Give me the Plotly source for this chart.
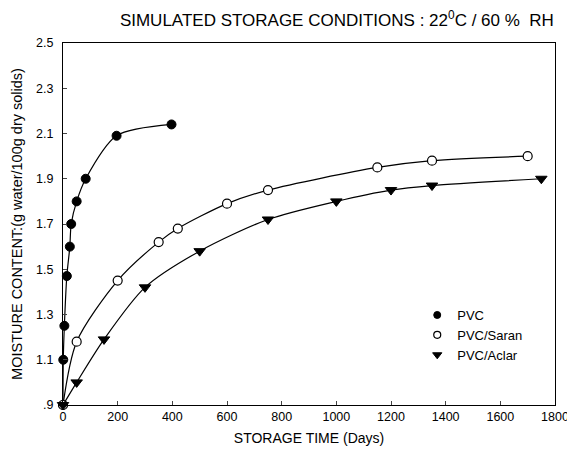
import plotly.graph_objects as go

pvc_days = [0, 1, 5, 14, 25, 30, 50, 83, 196, 397]
pvc_moist = [0.9, 1.1, 1.25, 1.47, 1.6, 1.7, 1.8, 1.9, 2.09, 2.14]

saran_days = [0, 50, 200, 350, 420, 600, 750, 1150, 1350, 1700]
saran_moist = [0.9, 1.18, 1.45, 1.62, 1.68, 1.79, 1.85, 1.95, 1.98, 2.0]

aclar_days = [0, 50, 150, 300, 500, 750, 1000, 1200, 1350, 1750]
aclar_moist = [0.9, 1.0, 1.19, 1.42, 1.58, 1.72, 1.80, 1.85, 1.87, 1.90]

series_names = ["PVC", "PVC/Saran", "PVC/Aclar"]
x_ticks = [0, 200, 400, 600, 800, 1000, 1200, 1400, 1600, 1800]
y_ticks = [0.9, 1.1, 1.3, 1.5, 1.7, 1.9, 2.1, 2.3, 2.5]
y_tick_labels = [".9", "1.1", "1.3", "1.5", "1.7", "1.9", "2.1", "2.3", "2.5"]

FONT = "Liberation Sans, Arial, sans-serif"

styles = [
    dict(symbol="circle", color="black", size=9, line=dict(color="black", width=1)),
    dict(symbol="circle", color="white", size=9, line=dict(color="black", width=1.2)),
    dict(symbol="triangle-down", color="black", size=10, line=dict(color="black", width=1)),
]
legend_styles = [
    dict(symbol="circle", color="black", size=7, line=dict(color="black", width=1)),
    dict(symbol="circle", color="white", size=7, line=dict(color="black", width=1.2)),
    dict(symbol="triangle-down", color="black", size=8, line=dict(color="black", width=1)),
]

fig = go.Figure()
data = [(pvc_days, pvc_moist), (saran_days, saran_moist), (aclar_days, aclar_moist)]
for (xs, ys), name, st in zip(data, series_names, styles):
    fig.add_trace(go.Scatter(
        x=xs, y=ys, mode="lines+markers", name=name, showlegend=False,
        line=dict(color="black", width=1.2, shape="spline", smoothing=0.8),
        marker=st, cliponaxis=False,
    ))
for name, st in zip(series_names, legend_styles):
    fig.add_trace(go.Scatter(
        x=[None], y=[None], mode="markers", name=name, showlegend=True,
        marker=st,
    ))

fig.update_layout(
    width=567, height=449,
    margin=dict(l=55, r=20, t=35, b=52, autoexpand=False),
    paper_bgcolor="white", plot_bgcolor="white",
    font=dict(family=FONT, color="black", size=13),
    title=dict(
        text="SIMULATED STORAGE CONDITIONS : 22<sup>0</sup>C / 60 %  RH",
        x=0.58, xanchor="center", y=0.973, yanchor="middle",
        font=dict(family=FONT, size=17, color="black"),
    ),
    legend=dict(
        x=0.72, y=0.29, xanchor="left", yanchor="top",
        bgcolor="rgba(0,0,0,0)", font=dict(family=FONT, size=13),
        tracegroupgap=0,
    ),
    xaxis=dict(
        range=[0, 1800], tickvals=x_ticks, ticks="inside", ticklen=4,
        showgrid=False, zeroline=False, showline=True, linecolor="black",
        linewidth=1, mirror=True, tickfont=dict(size=12.5), automargin=False,
        title=dict(text="STORAGE TIME (Days)", font=dict(size=14), standoff=10),
    ),
    yaxis=dict(
        range=[0.9, 2.5], tickvals=y_ticks, ticktext=y_tick_labels,
        ticks="inside", ticklen=4, ticklabelstandoff=6,
        showgrid=False, zeroline=False, showline=True, linecolor="black",
        linewidth=1, mirror=True, tickfont=dict(size=12.5), automargin=False,
        title=dict(text="MOISTURE CONTENT:(g water/100g dry solids)",
                   font=dict(size=14.5), standoff=10),
    ),
)

fig.write_html("out.html")
